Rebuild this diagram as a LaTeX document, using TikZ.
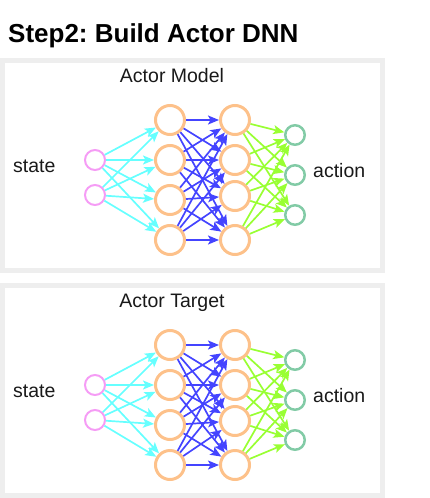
\documentclass[tikz,border=0pt]{standalone}
\usepackage{fontspec}
\setmainfont{Liberation Sans}
\usetikzlibrary{arrows.meta}
\frenchspacing
\definecolor{panelgray}{HTML}{EEEEEE}
\definecolor{pinkS}{HTML}{F59CF5}
\definecolor{orangeH}{HTML}{FDC18A}
\definecolor{tealO}{HTML}{82CBA6}
\definecolor{cyanE}{HTML}{66FFFF}
\definecolor{blueE}{HTML}{4444FF}
\definecolor{greenE}{HTML}{99FF33}
\begin{document}
\begin{tikzpicture}[x=1pt,y=-1pt,
  panel/.style={draw=panelgray,line width=5pt},
  snode/.style={circle,draw=pinkS,line width=2pt,minimum size=20pt,inner sep=0pt},
  hnode/.style={circle,draw=orangeH,line width=3pt,minimum size=29pt,inner sep=0pt},
  onode/.style={circle,draw=tealO,line width=2.5pt,minimum size=19.5pt,inner sep=0pt},
  lbl/.style={font=\fontsize{19.5}{22}\selectfont,inner sep=0pt,text=black!90},
  tip/.style={-{Stealth[length=11pt,width=9pt,inset=2.5pt]},line width=1.7pt},
  cyanarrow/.style={tip,draw=cyanE,color=cyanE},
  bluearrow/.style={tip,draw=blueE,color=blueE},
  greenarrow/.style={tip,draw=greenE,color=greenE}]
\useasboundingbox (0,0) rectangle (429,498);
\node[anchor=base west,inner sep=0pt,font=\fontsize{26}{30}\selectfont\bfseries] (title) at (8,42) {Step2: Build Actor DNN};
\foreach \p/\off/\name in {1/0/Actor Model,2/225/Actor Target}{
  \begin{scope}[yshift=-\off pt]
    \draw[panel] (2.5,60.5) rectangle (382.5,270.5);
    \node[lbl,anchor=base] (head\p) at (172,82) {\name};
    \node[lbl,anchor=base west] (state\p) at (13,172) {state};
    \node[lbl,anchor=base west] (action\p) at (313,177) {action};
    \node[snode] (s\p-1) at (95,160) {};
    \node[snode] (s\p-2) at (95,195) {};
    \node[hnode] (a\p-1) at (170,120) {};
    \node[hnode] (a\p-2) at (170,160) {};
    \node[hnode] (a\p-3) at (170,200) {};
    \node[hnode] (a\p-4) at (170,240) {};
    \node[hnode] (b\p-1) at (235,120) {};
    \node[hnode] (b\p-2) at (235,160) {};
    \node[hnode] (b\p-3) at (235,196) {};
    \node[hnode] (b\p-4) at (235,240) {};
    \node[onode] (o\p-1) at (295,135) {};
    \node[onode] (o\p-2) at (295,175) {};
    \node[onode] (o\p-3) at (295,215) {};
    \foreach \i in {1,2}{\foreach \j in {1,...,4}{\draw[cyanarrow] (s\p-\i) -- (a\p-\j);}}
    \foreach \i in {1,...,4}{\foreach \j in {1,...,4}{\draw[bluearrow] (a\p-\i) -- (b\p-\j);}}
    \foreach \i in {1,...,4}{\foreach \j in {1,2,3}{\draw[greenarrow] (b\p-\i) -- (o\p-\j);}}
  \end{scope}
}
\end{tikzpicture}
\end{document}
